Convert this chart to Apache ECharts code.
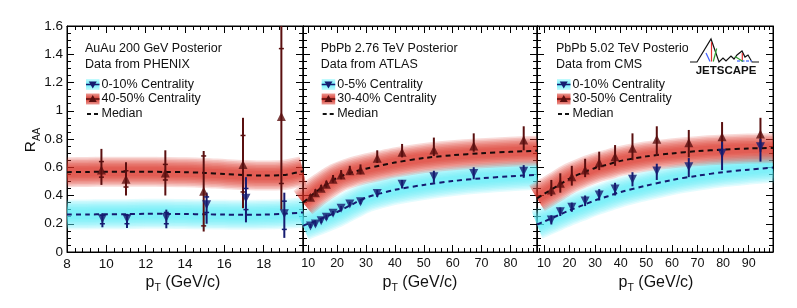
<!DOCTYPE html>
<html><head><meta charset="utf-8">
<script src="https://cdn.jsdelivr.net/npm/echarts@6/dist/echarts.min.js"></script>
<style>html,body{margin:0;padding:0;background:#fff}#c{width:797px;height:308px}</style>
</head><body><div id="c"></div>
<script>
// ---------------- DATA ----------------
// Panel 1: AuAu 200 GeV (PHENIX)
const auMedX    = [8, 9, 10, 11, 12, 13, 14, 15, 16, 17, 18, 19, 20];
const auRedMed  = [0.565, 0.567, 0.568, 0.569, 0.568, 0.567, 0.565, 0.56, 0.552, 0.545, 0.541, 0.545, 0.572];
const auBlueMed = [0.265, 0.266, 0.267, 0.268, 0.27, 0.27, 0.269, 0.267, 0.265, 0.263, 0.265, 0.27, 0.28];
const auRedX    = [9.75, 11, 13, 14.95, 16.95, 18.9];
const auRedY    = [0.58, 0.515, 0.56, 0.43, 0.62, 0.96];
const auRedLo   = [0.475, 0.40, 0.40, 0.145, 0.31, 0.30];
const auRedHi   = [0.73, 0.635, 0.72, 0.715, 0.95, 1.6];
const auRedCapLo = [0.53, 0.46, 0.51, 0.185, 0.425, 0.485];
const auRedCapHi = [0.64, 0.575, 0.62, 0.68, 0.825, 1.44];
const auBlueX   = [9.8, 11.05, 13.05, 15.1, 17.1, 19.05];
const auBlueY   = [0.235, 0.235, 0.245, 0.335, 0.38, 0.27];
const auBlueLo  = [0.175, 0.17, 0.168, 0.2, 0.21, 0.1];
const auBlueHi  = [0.275, 0.27, 0.30, 0.42, 0.53, 0.42];
const auBlueCapLo = [0.2, 0.2, 0.2, 0.28, 0.30, 0.16];
const auBlueCapHi = [0.26, 0.26, 0.28, 0.39, 0.45, 0.36];

// Panel 2: PbPb 2.76 TeV (ATLAS)
const atMedX    = [8.2, 10, 12, 15, 20, 25, 30, 35, 40, 50, 60, 70, 80, 89.2];
const atRedMed  = [0.35, 0.38, 0.415, 0.46, 0.525, 0.563, 0.59, 0.612, 0.633, 0.665, 0.685, 0.699, 0.709, 0.717];
const atBlueMed = [0.185, 0.2, 0.215, 0.24, 0.283, 0.335, 0.385, 0.415, 0.44, 0.475, 0.502, 0.522, 0.536, 0.547];
const atX       = [10.8, 12.5, 14.5, 16.3, 18.6, 21.4, 24.4, 28.1, 33.9, 42.5, 53.5, 67.3, 84.6];
const atRedY    = [0.387, 0.42, 0.451, 0.479, 0.515, 0.545, 0.576, 0.58, 0.663, 0.706, 0.722, 0.75, 0.793];
const atRedLo   = [0.365, 0.395, 0.43, 0.455, 0.49, 0.515, 0.545, 0.55, 0.63, 0.67, 0.68, 0.71, 0.72];
const atRedHi   = [0.41, 0.445, 0.475, 0.505, 0.545, 0.58, 0.61, 0.62, 0.72, 0.765, 0.81, 0.84, 0.89];
const atBlueY   = [0.184, 0.198, 0.222, 0.246, 0.274, 0.309, 0.34, 0.356, 0.415, 0.48, 0.533, 0.556, 0.572];
const atBlueLo  = [0.17, 0.182, 0.205, 0.228, 0.257, 0.292, 0.325, 0.338, 0.39, 0.45, 0.49, 0.515, 0.525];
const atBlueHi  = [0.2, 0.215, 0.24, 0.265, 0.29, 0.325, 0.355, 0.375, 0.44, 0.51, 0.575, 0.6, 0.615];

// Panel 3: PbPb 5.02 TeV (CMS)
const cmMedX    = [7.3, 10, 15, 20, 25, 30, 35, 40, 50, 60, 70, 80, 90, 99.5];
const cmRedMed  = [0.38, 0.41, 0.465, 0.52, 0.56, 0.595, 0.62, 0.645, 0.677, 0.698, 0.714, 0.725, 0.733, 0.737];
const cmBlueMed = [0.195, 0.215, 0.255, 0.295, 0.33, 0.365, 0.395, 0.425, 0.47, 0.51, 0.54, 0.565, 0.583, 0.598];
const cmX       = [12.9, 16.4, 20.9, 26.1, 31.6, 37.8, 44.6, 54.1, 66.6, 79.6, 94.6];
const cmRedY    = [0.439, 0.486, 0.533, 0.58, 0.632, 0.675, 0.734, 0.798, 0.774, 0.816, 0.835];
const cmRedLo   = [0.396, 0.42, 0.47, 0.53, 0.58, 0.61, 0.65, 0.68, 0.67, 0.67, 0.71];
const cmRedHi   = [0.51, 0.557, 0.61, 0.66, 0.71, 0.757, 0.84, 0.89, 0.864, 0.92, 0.95];
const cmBlueY   = [0.227, 0.285, 0.316, 0.361, 0.404, 0.446, 0.515, 0.573, 0.604, 0.699, 0.746];
const cmBlueLo  = [0.195, 0.255, 0.285, 0.325, 0.365, 0.4, 0.465, 0.51, 0.53, 0.58, 0.64];
const cmBlueHi  = [0.26, 0.315, 0.35, 0.4, 0.445, 0.49, 0.565, 0.625, 0.665, 0.78, 0.80];

// Axis ranges and tick labels
const xRanges = [[8, 20], [8.2, 89.2], [7.3, 99.5]];
const xTickStep = [2, 10, 10];
const yRange = [0, 1.6];
const yTickStep = 0.2;

// Text
const panelTitles = ['AuAu 200 GeV Posterior', 'PbPb 2.76 TeV Posterior', 'PbPb 5.02 TeV Posterior'];
const panelData = ['Data from PHENIX', 'Data from ATLAS', 'Data from CMS'];
const blueLabels = ['0-10% Centrality', '0-5% Centrality', '0-10% Centrality'];
const redLabels = ['40-50% Centrality', '30-40% Centrality', '30-50% Centrality'];

// ---------------- STYLE ----------------
const FONT = 'Liberation Sans, Arial, Helvetica, sans-serif';
const MAROON = '#5a0f0f';
const NAVY = '#151b70';
const RED = 'rgba(220,50,38,';
const CYAN = 'rgba(90,236,248,';
const gridsPx = [
  {left: 67, top: 26, width: 236, height: 226},
  {left: 303, top: 26, width: 234, height: 226},
  {left: 537, top: 26, width: 236, height: 226}
];

const zip = (a, b) => a.map((v, i) => [v, b[i]]);

function xAxisFor(i, pos) {
  const ax = {
    type: 'value', gridIndex: i, position: pos, min: xRanges[i][0], max: xRanges[i][1],
    axisLine: {show: true, onZero: false, lineStyle: {color: '#000', width: 1}},
    axisTick: {show: true, inside: true, length: 7, lineStyle: {color: '#000', width: 1}},
    minorTick: {show: true, splitNumber: 5, length: 4, lineStyle: {color: '#000', width: 1}},
    splitLine: {show: false}, minorSplitLine: {show: false},
    axisLabel: {show: pos === 'bottom', fontFamily: FONT, fontSize: i === 0 ? 13.5 : 12.5, color: '#111', margin: 5,
      showMinLabel: i === 0, showMaxLabel: false}
  };
  if (i === 0) ax.interval = xTickStep[0];
  else { ax.minInterval = xTickStep[i]; ax.maxInterval = xTickStep[i]; ax.splitNumber = 8; }
  return ax;
}
function yAxisFor(i, pos) {
  return {
    type: 'value', gridIndex: i, position: pos, min: yRange[0], max: yRange[1], interval: yTickStep,
    axisLine: {show: true, onZero: false, lineStyle: {color: '#000', width: 1}},
    axisTick: {show: true, inside: true, length: 7, lineStyle: {color: '#000', width: 1}},
    minorTick: {show: true, splitNumber: 4, length: 4, lineStyle: {color: '#000', width: 1}},
    splitLine: {show: false}, minorSplitLine: {show: false},
    axisLabel: {show: i === 0 && pos === 'left', fontFamily: FONT, fontSize: 13.5, color: '#111', margin: 4}
  };
}

const xAxes = [], yAxes = [];
for (let i = 0; i < 3; i++) {
  xAxes.push(xAxisFor(i, 'bottom')); xAxes.push(xAxisFor(i, 'top'));
  yAxes.push(yAxisFor(i, 'left')); yAxes.push(yAxisFor(i, 'right'));
}

// soft posterior band: many thin translucent layers around the median
const bandWidths = [30, 27, 24, 21, 18, 15, 12, 9];
function bandSeries(i, xs, ys, col, a) {
  const d = zip(xs, ys);
  return bandWidths.map(function (w) {
    return {type: 'line', xAxisIndex: 2 * i, yAxisIndex: 2 * i, data: d, smooth: 0.3, symbol: 'none', silent: true, z: 1, clip: true,
      lineStyle: {width: w, color: col + a + ')'}};
  });
}
function medianSeries(i, xs, ys, color) {
  return {type: 'line', xAxisIndex: 2 * i, yAxisIndex: 2 * i, data: zip(xs, ys), smooth: 0.3, symbol: 'none', silent: true, z: 3,
    lineStyle: {width: 2, color: color, type: [5, 4]}};
}
function errSeries(i, xs, lo, hi, capLo, capHi, color) {
  return {
    type: 'custom', xAxisIndex: 2 * i, yAxisIndex: 2 * i, silent: true, z: 4, clip: true,
    data: xs.map((x, k) => [x, lo[k], hi[k], capLo ? capLo[k] : -1, capHi ? capHi[k] : -1]),
    renderItem: function (params, api) {
      const x = api.value(0);
      const p1 = api.coord([x, api.value(1)]);
      const p2 = api.coord([x, api.value(2)]);
      const ch = [{type: 'line', shape: {x1: p1[0], y1: p1[1], x2: p2[0], y2: p2[1]}, style: {stroke: color, lineWidth: 2}}];
      [3, 4].forEach(function (dim) {
        const v = api.value(dim);
        if (v >= 0) {
          const c = api.coord([x, v]);
          ch.push({type: 'line', shape: {x1: c[0] - 2.5, y1: c[1], x2: c[0] + 2.5, y2: c[1]}, style: {stroke: color, lineWidth: 1.5}});
        }
      });
      return {type: 'group', children: ch};
    }
  };
}
function markerSeries(i, xs, ys, color, down) {
  return {type: 'scatter', xAxisIndex: 2 * i, yAxisIndex: 2 * i, data: zip(xs, ys), symbol: 'triangle', symbolSize: 9,
    symbolRotate: down ? 180 : 0, itemStyle: {color: color}, silent: true, z: 5};
}

const series = [].concat(
  bandSeries(0, auMedX, auBlueMed, CYAN, 0.16), bandSeries(0, auMedX, auRedMed, RED, 0.17),
  bandSeries(1, atMedX, atBlueMed, CYAN, 0.16), bandSeries(1, atMedX, atRedMed, RED, 0.17),
  bandSeries(2, cmMedX, cmBlueMed, CYAN, 0.16), bandSeries(2, cmMedX, cmRedMed, RED, 0.17),
  [
    medianSeries(0, auMedX, auBlueMed, NAVY), medianSeries(0, auMedX, auRedMed, '#1a0a0a'),
    medianSeries(1, atMedX, atBlueMed, NAVY), medianSeries(1, atMedX, atRedMed, '#1a0a0a'),
    medianSeries(2, cmMedX, cmBlueMed, NAVY), medianSeries(2, cmMedX, cmRedMed, '#1a0a0a'),
    errSeries(0, auRedX, auRedLo, auRedHi, auRedCapLo, auRedCapHi, MAROON),
    errSeries(0, auBlueX, auBlueLo, auBlueHi, auBlueCapLo, auBlueCapHi, NAVY),
    errSeries(1, atX, atRedLo, atRedHi, null, null, MAROON),
    errSeries(1, atX, atBlueLo, atBlueHi, null, null, NAVY),
    errSeries(2, cmX, cmRedLo, cmRedHi, null, null, MAROON),
    errSeries(2, cmX, cmBlueLo, cmBlueHi, null, null, NAVY),
    markerSeries(0, auRedX, auRedY, MAROON, false), markerSeries(0, auBlueX, auBlueY, NAVY, true),
    markerSeries(1, atX, atRedY, MAROON, false), markerSeries(1, atX, atBlueY, NAVY, true),
    markerSeries(2, cmX, cmRedY, MAROON, false), markerSeries(2, cmX, cmBlueY, NAVY, true)
  ]
);

// ---------------- GRAPHICS (legends, axis titles, logo) ----------------
const graphic = [];
const legendX = [85, 320.7, 556];
function txt(x, y, s, size, extra) {
  return Object.assign({type: 'text', x: x, y: y, silent: true, z: 50,
    style: {text: s, fontFamily: FONT, fontSize: size, fill: '#111', verticalAlign: 'middle', align: 'left'}}, extra || {});
}
for (let i = 0; i < 3; i++) {
  const x0 = legendX[i];
  graphic.push(txt(x0, 48.5, panelTitles[i], 12.5));
  graphic.push(txt(x0, 65, panelData[i], 12.5));
  const bx = x0 + 1, bw = 13.5;
  // cyan entry
  graphic.push({type: 'rect', silent: true, z: 50, shape: {x: bx, y: 79, width: bw, height: 11},
    style: {fill: {type: 'linear', x: 0, y: 0, x2: 0, y2: 1, colorStops: [{offset: 0, color: '#c8fbfe'}, {offset: 0.5, color: '#6aeef8'}, {offset: 1, color: '#c8fbfe'}]}}});
  graphic.push({type: 'line', silent: true, z: 51, shape: {x1: bx, y1: 84.5, x2: bx + bw, y2: 84.5}, style: {stroke: NAVY, lineWidth: 1.5}});
  graphic.push({type: 'polygon', silent: true, z: 52, shape: {points: [[bx + bw / 2 - 4, 81.5], [bx + bw / 2 + 4, 81.5], [bx + bw / 2, 88.5]]}, style: {fill: NAVY}});
  graphic.push(txt(x0 + 16.5, 84.5, blueLabels[i], 12.5));
  // red entry
  graphic.push({type: 'rect', silent: true, z: 50, shape: {x: bx, y: 93.5, width: bw, height: 11},
    style: {fill: {type: 'linear', x: 0, y: 0, x2: 0, y2: 1, colorStops: [{offset: 0, color: '#ec9a94'}, {offset: 0.5, color: '#d63a30'}, {offset: 1, color: '#ec9a94'}]}}});
  graphic.push({type: 'line', silent: true, z: 51, shape: {x1: bx, y1: 99, x2: bx + bw, y2: 99}, style: {stroke: MAROON, lineWidth: 1.5}});
  graphic.push({type: 'polygon', silent: true, z: 52, shape: {points: [[bx + bw / 2 - 4, 102], [bx + bw / 2 + 4, 102], [bx + bw / 2, 95]]}, style: {fill: MAROON}});
  graphic.push(txt(x0 + 16.5, 99, redLabels[i], 12.5));
  // median entry
  graphic.push({type: 'line', silent: true, z: 51, shape: {x1: bx + 1, y1: 114, x2: bx + bw, y2: 114}, style: {stroke: '#111', lineWidth: 2, lineDash: [4, 3]}});
  graphic.push(txt(x0 + 16.5, 114, 'Median', 12.5));
}
// x axis titles
const ptCenters = [183, 420, 656];
ptCenters.forEach(function (cx) {
  graphic.push({type: 'text', x: cx, y: 283, silent: true, z: 50,
    style: {text: '{p|p}{t|T}{p| (GeV/c)}', align: 'center', verticalAlign: 'middle', fill: '#111',
      rich: {p: {fontFamily: FONT, fontSize: 16, lineHeight: 22, verticalAlign: 'middle', fill: '#111'},
             t: {fontFamily: FONT, fontSize: 10.5, verticalAlign: 'bottom', fill: '#111'}}}});
});
// y axis title
graphic.push({type: 'text', x: 31, y: 140, rotation: Math.PI / 2, silent: true, z: 50,
  style: {text: '{r|R}{s|AA}', align: 'center', verticalAlign: 'middle', fill: '#111',
    rich: {r: {fontFamily: FONT, fontSize: 15.5, lineHeight: 22, verticalAlign: 'middle', fill: '#111'},
           s: {fontFamily: FONT, fontSize: 10, verticalAlign: 'bottom', fill: '#111'}}}});
// JETSCAPE logo
graphic.push({type: 'rect', silent: true, z: 60, shape: {x: 688, y: 33, width: 74, height: 45}, style: {fill: '#fff'}});
graphic.push({type: 'polyline', silent: true, z: 61, shape: {points: [[690,62],[697,62],[711,39],[719,62],[723,58],[726,61],[731,56],[734,59],[737,55],[742,51],[745,57],[748,55],[752,62],[759,62]]}, style: {stroke: '#111', lineWidth: 1.2, fill: null}});
graphic.push({type: 'line', silent: true, z: 62, shape: {x1: 711.5, y1: 42, x2: 711.5, y2: 61.5}, style: {stroke: '#e03030', lineWidth: 1.2}});
graphic.push({type: 'line', silent: true, z: 62, shape: {x1: 706, y1: 53, x2: 710, y2: 61.5}, style: {stroke: '#4060ff', lineWidth: 1.2}});
graphic.push({type: 'line', silent: true, z: 62, shape: {x1: 713.3, y1: 61.5, x2: 716.7, y2: 48.5}, style: {stroke: '#30a030', lineWidth: 1.2}});
graphic.push({type: 'line', silent: true, z: 62, shape: {x1: 742.3, y1: 53, x2: 742.3, y2: 61.5}, style: {stroke: '#e03030', lineWidth: 1.2}});
graphic.push({type: 'line', silent: true, z: 62, shape: {x1: 737, y1: 61, x2: 752, y2: 61}, style: {stroke: '#6080ff', lineWidth: 1.5, lineDash: [3, 1.5]}});
graphic.push({type: 'line', silent: true, z: 62, shape: {x1: 735, y1: 56.5, x2: 743, y2: 61.5}, style: {stroke: '#30a030', lineWidth: 1.2}});
graphic.push({type: 'text', x: 726, y: 71, silent: true, z: 62,
  style: {text: 'JETSCAPE', fontFamily: FONT, fontWeight: 'bold', fontSize: 11.5, fill: '#111', align: 'center', verticalAlign: 'middle'}});

const chart = echarts.init(document.getElementById('c'), null, {renderer: 'canvas'});
chart.setOption({
  animation: false,
  backgroundColor: '#fff',
  grid: gridsPx.map(g => Object.assign({show: true, borderColor: '#000', borderWidth: 1, backgroundColor: 'transparent', containLabel: false}, g)),
  xAxis: xAxes,
  yAxis: yAxes,
  series: series,
  graphic: graphic
});
</script></body></html>
